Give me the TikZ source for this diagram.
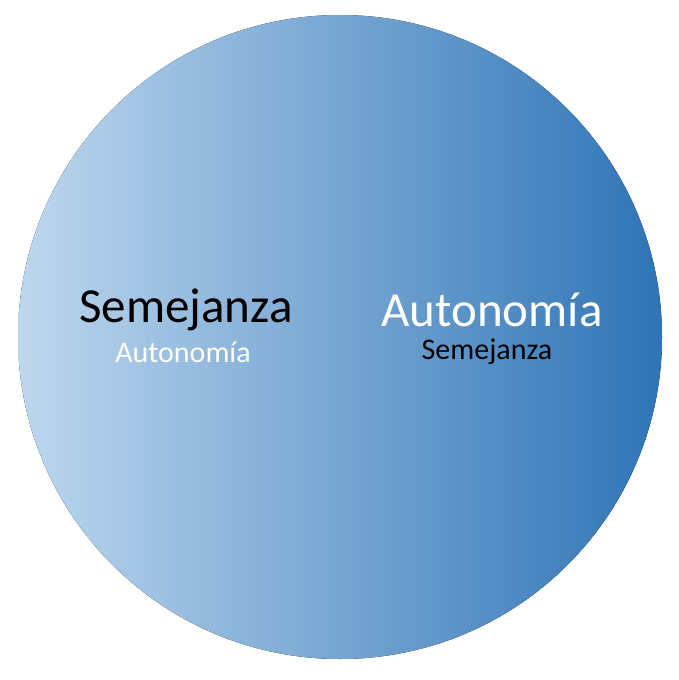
\documentclass[tikz,border=0pt]{standalone}
\usepackage{fontspec}
\setmainfont{Carlito}
\definecolor{lightb}{RGB}{190,215,238}
\definecolor{darkb}{RGB}{46,116,182}
\begin{document}
\begin{tikzpicture}[x=1pt,y=-1pt,
  big/.style={font=\fontsize{49}{56}\selectfont},
  small/.style={font=\fontsize{30}{36}\selectfont}]
\useasboundingbox (0,0) rectangle (678,680);
\fill[left color=lightb,right color=darkb] (340,337) circle (322);
\node[big,text=black] (s1) at (186,310) {Semejanza};
\node[small,text=white] (a1) at (183,352) {Autonomía};
\node[big,text=white] (a2) at (492,310) {Autonomía};
\node[small,text=black] (s2) at (487,352) {Semejanza};
\end{tikzpicture}
\end{document}
